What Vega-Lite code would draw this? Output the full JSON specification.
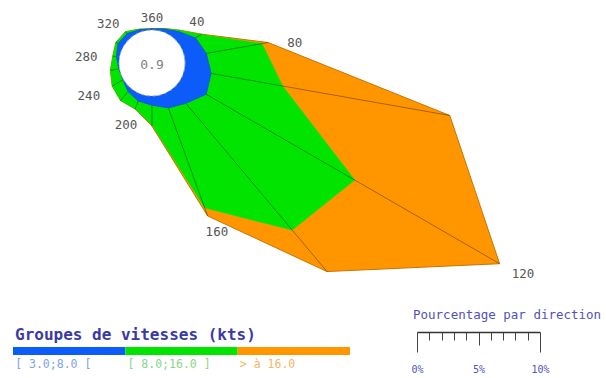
{
  "$schema": "https://vega.github.io/schema/vega-lite/v6.json",
  "padding": 0,
  "background": "white",
  "bounds": "flush",
  "spacing": 47,
  "config": {"view": {"stroke": null}, "font": "DejaVu Sans Mono"},
  "datasets": {
    "rose": [
      {"dir": 0, "group": "[ 3.0;8.0 [", "pct": 0.1},
      {"dir": 0, "group": "[ 8.0;16.0 ]", "pct": 0.0},
      {"dir": 0, "group": "> à 16.0", "pct": 0.0},
      {"dir": 20, "group": "[ 3.0;8.0 [", "pct": 0.25},
      {"dir": 20, "group": "[ 8.0;16.0 ]", "pct": 0.05},
      {"dir": 20, "group": "> à 16.0", "pct": 0.0},
      {"dir": 40, "group": "[ 3.0;8.0 [", "pct": 0.65},
      {"dir": 40, "group": "[ 8.0;16.0 ]", "pct": 0.15},
      {"dir": 40, "group": "> à 16.0", "pct": 0.0},
      {"dir": 60, "group": "[ 3.0;8.0 [", "pct": 1.4},
      {"dir": 60, "group": "[ 8.0;16.0 ]", "pct": 0.55},
      {"dir": 60, "group": "> à 16.0", "pct": 0.05},
      {"dir": 80, "group": "[ 3.0;8.0 [", "pct": 1.8},
      {"dir": 80, "group": "[ 8.0;16.0 ]", "pct": 4.6},
      {"dir": 80, "group": "> à 16.0", "pct": 0.5},
      {"dir": 100, "group": "[ 3.0;8.0 [", "pct": 2.2},
      {"dir": 100, "group": "[ 8.0;16.0 ]", "pct": 5.9},
      {"dir": 100, "group": "> à 16.0", "pct": 13.8},
      {"dir": 120, "group": "[ 3.0;8.0 [", "pct": 2.4},
      {"dir": 120, "group": "[ 8.0;16.0 ]", "pct": 13.95},
      {"dir": 120, "group": "> à 16.0", "pct": 13.6},
      {"dir": 140, "group": "[ 3.0;8.0 [", "pct": 1.6},
      {"dir": 140, "group": "[ 8.0;16.0 ]", "pct": 13.45},
      {"dir": 140, "group": "> à 16.0", "pct": 4.4},
      {"dir": 160, "group": "[ 3.0;8.0 [", "pct": 1.2},
      {"dir": 160, "group": "[ 8.0;16.0 ]", "pct": 8.65},
      {"dir": 160, "group": "> à 16.0", "pct": 0.7},
      {"dir": 180, "group": "[ 3.0;8.0 [", "pct": 0.75},
      {"dir": 180, "group": "[ 8.0;16.0 ]", "pct": 1.6},
      {"dir": 180, "group": "> à 16.0", "pct": 0.1},
      {"dir": 200, "group": "[ 3.0;8.0 [", "pct": 0.6},
      {"dir": 200, "group": "[ 8.0;16.0 ]", "pct": 0.7},
      {"dir": 200, "group": "> à 16.0", "pct": 0.0},
      {"dir": 220, "group": "[ 3.0;8.0 [", "pct": 0.35},
      {"dir": 220, "group": "[ 8.0;16.0 ]", "pct": 0.95},
      {"dir": 220, "group": "> à 16.0", "pct": 0.0},
      {"dir": 240, "group": "[ 3.0;8.0 [", "pct": 0.05},
      {"dir": 240, "group": "[ 8.0;16.0 ]", "pct": 1.0},
      {"dir": 240, "group": "> à 16.0", "pct": 0.0},
      {"dir": 260, "group": "[ 3.0;8.0 [", "pct": 0.05},
      {"dir": 260, "group": "[ 8.0;16.0 ]", "pct": 0.7},
      {"dir": 260, "group": "> à 16.0", "pct": 0.0},
      {"dir": 280, "group": "[ 3.0;8.0 [", "pct": 0.25},
      {"dir": 280, "group": "[ 8.0;16.0 ]", "pct": 0.3},
      {"dir": 280, "group": "> à 16.0", "pct": 0.0},
      {"dir": 300, "group": "[ 3.0;8.0 [", "pct": 0.5},
      {"dir": 300, "group": "[ 8.0;16.0 ]", "pct": 0.2},
      {"dir": 300, "group": "> à 16.0", "pct": 0.0},
      {"dir": 320, "group": "[ 3.0;8.0 [", "pct": 0.45},
      {"dir": 320, "group": "[ 8.0;16.0 ]", "pct": 0.2},
      {"dir": 320, "group": "> à 16.0", "pct": 0.0},
      {"dir": 340, "group": "[ 3.0;8.0 [", "pct": 0.2},
      {"dir": 340, "group": "[ 8.0;16.0 ]", "pct": 0.05},
      {"dir": 340, "group": "> à 16.0", "pct": 0.0}
    ],
    "calm": [{"calm": 0.9}]
  },
  "vconcat": [
    {
      "width": 606,
      "height": 300,
      "layer": [
        {
          "data": {"name": "rose"},
          "transform": [
            {"calculate": "indexof(['[ 3.0;8.0 [', '[ 8.0;16.0 ]', '> à 16.0'], datum.group)", "as": "k"},
            {"stack": "pct", "groupby": ["dir"], "sort": [{"field": "k", "order": "ascending"}], "as": ["p0", "p1"]},
            {"calculate": "2.683 + datum.p1", "as": "r"},
            {"calculate": "datum.r * sin(datum.dir * PI / 180)", "as": "x"},
            {"calculate": "datum.r * cos(datum.dir * PI / 180)", "as": "y"}
          ],
          "encoding": {
            "x": {"field": "x", "type": "quantitative", "scale": {"domain": [-12.358, 36.911], "nice": false, "zero": false}, "axis": null},
            "y": {"field": "y", "type": "quantitative", "scale": {"domain": [-19.268, 5.122], "nice": false, "zero": false}, "axis": null},
            "order": {"field": "dir", "type": "quantitative"}
          },
          "layer": [
            {
              "transform": [{"filter": "datum.k == 2"}],
              "mark": {"type": "line", "interpolate": "linear-closed", "fill": "#ff9600", "stroke": "#c97400", "strokeWidth": 1}
            },
            {
              "transform": [{"filter": "datum.k == 1"}],
              "mark": {"type": "line", "interpolate": "linear-closed", "fill": "#00e400", "stroke": "#00e400", "strokeWidth": 0.5}
            },
            {
              "transform": [{"filter": "datum.k == 2"}],
              "mark": {"type": "rule", "color": "#000000", "opacity": 0.4, "strokeWidth": 0.9},
              "encoding": {
                "x": {"datum": 0, "type": "quantitative"},
                "y": {"datum": 0, "type": "quantitative"},
                "x2": {"field": "x"},
                "y2": {"field": "y"}
              }
            },
            {
              "transform": [{"filter": "datum.k == 0"}],
              "mark": {"type": "line", "interpolate": "linear-closed", "fill": "#0b5cf8", "stroke": "#0a52e0", "strokeWidth": 0.8}
            }
          ]
        },
        {
          "data": {"name": "calm"},
          "mark": {"type": "point", "shape": "circle", "filled": true, "fill": "#ffffff", "size": 4356, "opacity": 1, "stroke": "#b0b0b0", "strokeWidth": 1, "strokeDash": [3, 3]},
          "encoding": {
            "x": {"datum": 0, "type": "quantitative", "scale": {"domain": [-12.358, 36.911], "nice": false, "zero": false}, "axis": null},
            "y": {"datum": 0, "type": "quantitative", "scale": {"domain": [-19.268, 5.122], "nice": false, "zero": false}, "axis": null}
          }
        },
        {
          "data": {"name": "calm"},
          "mark": {"type": "text", "font": "DejaVu Sans Mono", "fontSize": 13, "color": "#808080", "dy": 2},
          "encoding": {
            "x": {"datum": 0, "type": "quantitative", "scale": {"domain": [-12.358, 36.911], "nice": false, "zero": false}, "axis": null},
            "y": {"datum": 0, "type": "quantitative", "scale": {"domain": [-19.268, 5.122], "nice": false, "zero": false}, "axis": null},
            "text": {"field": "calm", "type": "quantitative", "format": ".1f"}
          }
        },
        {
          "data": {"name": "rose"},
          "transform": [
            {"calculate": "indexof(['[ 3.0;8.0 [', '[ 8.0;16.0 ]', '> à 16.0'], datum.group)", "as": "k"},
            {"stack": "pct", "groupby": ["dir"], "sort": [{"field": "k", "order": "ascending"}], "as": ["p0", "p1"]},
            {"filter": "datum.k == 2 && datum.dir % 40 == 0"},
            {"calculate": "2.683 + datum.p1", "as": "r"},
            {"calculate": "(datum.r + 27 / 12.3) * sin(datum.dir * PI / 180)", "as": "lx"},
            {"calculate": "(datum.r + 14 / 12.3) * cos(datum.dir * PI / 180)", "as": "ly"},
            {"calculate": "datum.dir == 0 ? '360' : '' + datum.dir", "as": "lab"}
          ],
          "mark": {"type": "text", "font": "DejaVu Sans Mono", "fontSize": 12.5, "color": "#555555", "align": "center", "baseline": "middle", "dy": 3},
          "encoding": {
            "x": {"field": "lx", "type": "quantitative", "scale": {"domain": [-12.358, 36.911], "nice": false, "zero": false}, "axis": null},
            "y": {"field": "ly", "type": "quantitative", "scale": {"domain": [-19.268, 5.122], "nice": false, "zero": false}, "axis": null},
            "text": {"field": "lab"}
          }
        }
      ]
    },
    {
      "bounds": "flush",
      "spacing": 54,
      "hconcat": [
        {
          "width": 363,
          "height": 8,
          "data": {"name": "rose"},
          "transform": [{"aggregate": [{"op": "sum", "field": "pct", "as": "total"}], "groupby": ["group"]}],
          "title": {"text": "Groupes de vitesses (kts)", "anchor": "start", "frame": "group", "dx": 15, "dy": 15, "offset": 6, "baseline": "alphabetic", "font": "DejaVu Sans Mono", "fontSize": 16, "fontWeight": "bold", "color": "#3a3aa6"},
          "mark": {"type": "rect"},
          "encoding": {
            "x": {
              "field": "group",
              "type": "ordinal",
              "sort": ["[ 3.0;8.0 [", "[ 8.0;16.0 ]", "> à 16.0"],
              "scale": {"paddingInner": 0, "paddingOuter": 0.1157},
              "axis": {
                "title": null,
                "orient": "bottom",
                "domain": false,
                "ticks": false,
                "labelAngle": 0,
                "labelAlign": "left",
                "labelOffset": -54,
                "labelPadding": 3,
                "labelFont": "DejaVu Sans Mono",
                "labelFontSize": 11.5,
                "labelColor": {"condition": [{"test": "datum.value === '[ 3.0;8.0 ['", "value": "#7ea3ea"}, {"test": "datum.value === '[ 8.0;16.0 ]'", "value": "#86d886"}], "value": "#f3b765"}
              }
            },
            "color": {
              "field": "group",
              "type": "nominal",
              "scale": {"domain": ["[ 3.0;8.0 [", "[ 8.0;16.0 ]", "> à 16.0"], "range": ["#0b5cf8", "#00e400", "#ff9600"]},
              "legend": null
            }
          }
        },
        {
          "width": 123,
          "height": 1,
          "data": {"values": [{}]},
          "title": {"text": "Pourcentage par direction", "anchor": "start", "frame": "group", "dx": -4, "dy": 29, "offset": 29, "baseline": "alphabetic", "font": "DejaVu Sans Mono", "fontSize": 12.5, "fontWeight": "normal", "color": "#5252bd"},
          "mark": {"type": "point", "opacity": 0},
          "encoding": {
            "x": {
              "datum": 0,
              "type": "quantitative",
              "scale": {"domain": [0, 10], "nice": false, "zero": false},
              "axis": {
                "title": null,
                "orient": "bottom",
                "offset": -16,
                "grid": false,
                "values": [0, 1, 2, 3, 4, 5, 6, 7, 8, 9, 10],
                "domainColor": "#333333",
                "domainWidth": 1.5,
                "tickColor": "#444444",
                "tickWidth": 1,
                "tickSize": {"condition": [{"test": "datum.value === 5", "value": 13}, {"test": "datum.value === 0 || datum.value === 10", "value": 20}], "value": 8},
                "labelPadding": {"condition": {"test": "datum.value === 5", "value": 19}, "value": 12},
                "labelExpr": "datum.value % 5 === 0 ? datum.value + '%' : ''",
                "labelFont": "DejaVu Sans Mono",
                "labelFontSize": 10,
                "labelColor": "#5252bd",
                "labelFlush": false,
                "labelOverlap": false
              }
            }
          }
        }
      ]
    }
  ]
}
